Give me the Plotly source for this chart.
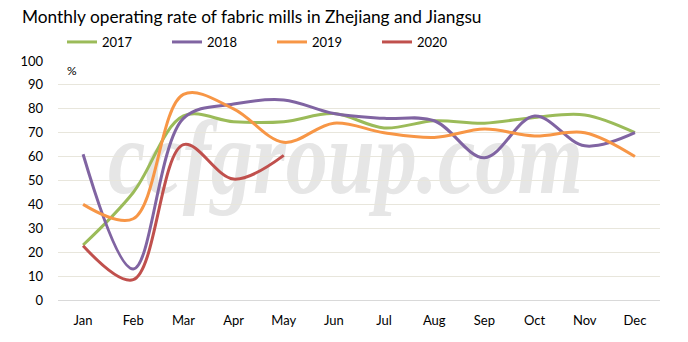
import base64
import plotly.graph_objects as go

months = ["Jan", "Feb", "Mar", "Apr", "May", "Jun", "Jul", "Aug", "Sep", "Oct", "Nov", "Dec"]
y2017 = [23, 45, 77, 74.6, 74.6, 78, 72, 75, 74, 76.4, 77.4, 70]
y2018 = [61, 13, 76, 82, 83.7, 78, 76, 75, 59.5, 77, 64.5, 70]
y2019 = [40, 34, 86, 80, 66, 74, 70, 68, 71.5, 68.6, 70, 60]
y2020 = [22.7, 8.5, 65, 50.6, 60.5]
series = [("2017", y2017, "#9bbb59"), ("2018", y2018, "#8064a2"),
          ("2019", y2019, "#f79646"), ("2020", y2020, "#c0504d")]

FONT = "Lato"
fig = go.Figure()
for name, ys, col in series:
    fig.add_trace(go.Scatter(x=months[:len(ys)], y=ys, name=name, mode="lines",
                             line=dict(color=col, width=3, shape="spline", smoothing=1.0)))

# watermark as an image below the data (plot area is 602 x 239 px)
svg = ('<svg xmlns="http://www.w3.org/2000/svg" width="602" height="239" viewBox="0 0 602 239">'
       '<text x="50" y="132" textLength="475" lengthAdjust="spacingAndGlyphs" '
       'font-family="Liberation Serif" font-style="italic" font-weight="bold" '
       'font-size="106" fill="#e6e6e6">ccfgroup.com</text></svg>')
uri = "data:image/svg+xml;base64," + base64.b64encode(svg.encode()).decode()
fig.add_layout_image(source=uri, xref="paper", yref="paper", x=0, y=1, sizex=1, sizey=1,
                     xanchor="left", yanchor="top", sizing="stretch", layer="below")

fig.add_annotation(text="%", xref="paper", yref="paper", x=0.012, y=0.96, xanchor="left",
                   yanchor="middle", showarrow=False, font=dict(family=FONT, size=12, color="#000"))

fig.update_layout(
    width=688, height=342, margin=dict(l=58, r=28, t=61, b=42, autoexpand=False),
    paper_bgcolor="white", plot_bgcolor="rgba(0,0,0,0)",
    title=dict(text="Monthly operating rate of fabric mills in Zhejiang and Jiangsu",
               x=22/688, xanchor="left", y=1-17/342, yanchor="middle",
               font=dict(family=FONT, size=17.3, color="#000")),
    legend=dict(orientation="h", xref="container", yref="container", x=62/688, y=1-42/342,
                xanchor="left", yanchor="middle", entrywidth=60, entrywidthmode="pixels",
                font=dict(family=FONT, size=13, color="#000"), bgcolor="rgba(0,0,0,0)"),
    xaxis=dict(type="category", range=[-0.5, 11.5], showgrid=False, showline=True,
               linecolor="#d9d9d9", linewidth=1, ticks="", ticklabelstandoff=8,
               tickfont=dict(family=FONT, size=13, color="#000"), fixedrange=True),
    yaxis=dict(range=[0, 100], dtick=10, showgrid=True, gridcolor="#e8e6dc", gridwidth=1,
               zeroline=False, showline=False, ticks="", ticklabelstandoff=14,
               tickfont=dict(family=FONT, size=13, color="#000"), fixedrange=True),
)
fig.write_html("out.html")
